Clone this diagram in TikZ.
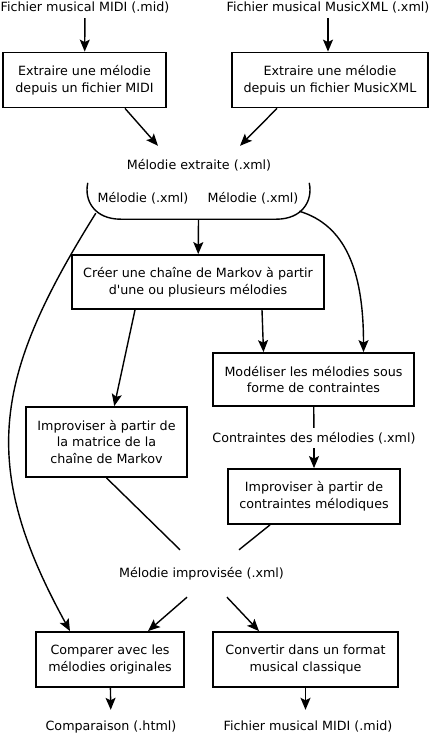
\documentclass[tikz,border=0pt]{standalone}
\usepackage{fontspec}
\setmainfont{DejaVu Sans}
\usetikzlibrary{arrows.meta}

\begin{document}
\begin{tikzpicture}[
    x=1pt, y=-1pt,
    font=\fontsize{12.7}{16.6}\selectfont,
    etape/.style={rectangle, draw, line width=1.8pt, align=center, minimum height=55pt, inner sep=2pt},
    donnee/.style={inner sep=0pt, minimum height=20pt},
    fleche/.style={-{Stealth[length=12pt,width=10pt,inset=2.5pt]}, line width=1.4pt},
    trait/.style={line width=1.4pt}
]
    \useasboundingbox (0,0) rectangle (430,736);

    \node[donnee] (srcmidi) at (85,8) {Fichier musical MIDI (.mid)};
    \node[donnee] (srcxml) at (328,8) {Fichier musical MusicXML (.xml)};

    \node[etape, minimum width=163pt] (extmidi) at (84.5,80) {Extraire une mélodie\\depuis un fichier MIDI};
    \node[etape, minimum width=196pt] (extxml) at (330,80) {Extraire une mélodie\\depuis un fichier MusicXML};

    \node[donnee, minimum height=38pt] (melext) at (199,165) {Mélodie extraite (.xml)};
    \node[minimum width=223pt, minimum height=36pt] (split) at (198.5,201) {};
    \node (mel1) at (143,198) {Mélodie (.xml)};
    \node (mel2) at (253,198) {Mélodie (.xml)};

    \node[etape, minimum width=252pt, minimum height=54pt] (markov) at (198,282) {Créer une chaîne de Markov à partir\\d\textquotesingle une ou plusieurs mélodies};
    \node[etape, minimum width=201pt, minimum height=53pt] (modele) at (313.5,379.5) {Modéliser les mélodies sous\\forme de contraintes};
    \node[etape, minimum width=161pt, minimum height=70pt] (impmarkov) at (106.5,442) {Improviser à partir de\\la matrice de la\\chaîne de Markov};
    \node[donnee] (contr) at (314,438) {Contraintes des mélodies (.xml)};
    \node[etape, minimum width=172pt] (impcontr) at (314,496.5) {Improviser à partir de\\contraintes mélodiques};

    \node[donnee, minimum height=47pt] (melimpr) at (201.5,573.5) {Mélodie improvisée (.xml)};

    \node[etape, minimum width=148pt] (compare) at (110,659.5) {Comparer avec les\\mélodies originales};
    \node[etape, minimum width=185pt] (convert) at (305.5,659.5) {Convertir dans un format\\musical classique};
    \node[donnee, minimum height=34pt] (rapport) at (111,727) {Comparaison (.html)};
    \node[donnee, minimum height=34pt] (sortie) at (308,727) {Fichier musical MIDI (.mid)};

    \draw[fleche] (srcmidi) -- (extmidi);
    \draw[fleche] (srcxml.south) -- (srcxml.south |- extxml.north);
    \draw[fleche] ([xshift=40.5pt]extmidi.south) -- ([xshift=-41pt]melext.north);
    \draw[fleche] ([xshift=-53pt]extxml.south) -- ([xshift=41pt]melext.north);
    \draw[trait] ([xshift=1pt]split.north west) .. controls ([xshift=-3pt,yshift=-18pt]split.north west) and ([xshift=8pt]split.south west) .. ([xshift=34pt]split.south west)
        -- ([xshift=-34pt]split.south east) .. controls ([xshift=-8pt]split.south east) and ([xshift=3pt,yshift=-18pt]split.north east) .. ([xshift=-1pt]split.north east);
    \draw[fleche] (split.south) -- (markov);
    \draw[fleche] ([xshift=9pt,yshift=6pt]split.south west) .. controls (-6,376) and (-22,464) .. ([xshift=-40pt]compare.north);
    \draw[fleche] ([xshift=-11pt,yshift=8pt]split.south east) .. controls (345,225) and (363.5,270) .. ([xshift=50pt]modele.north);
    \draw[fleche] ([xshift=-63pt]markov.south) -- (impmarkov);
    \draw[fleche] ([xshift=64pt]markov.south) -- ([xshift=-50pt]modele.north);
    \draw[trait] (modele) -- (contr);
    \draw[fleche] (contr) -- (impcontr);
    \draw[trait] (impmarkov.south) -- ([xshift=-21.5pt]melimpr.north);
    \draw[trait] ([xshift=-44pt]impcontr.south) -- ([xshift=37.5pt]melimpr.north);
    \draw[fleche] ([xshift=-14.5pt]melimpr.south) -- ([xshift=38pt]compare.north);
    \draw[fleche] ([xshift=25.5pt]melimpr.south) -- ([xshift=-46.5pt]convert.north);
    \draw[fleche] (compare) -- (rapport);
    \draw[fleche] (convert.south) -- (convert.south |- sortie.north);
\end{tikzpicture}
\end{document}
